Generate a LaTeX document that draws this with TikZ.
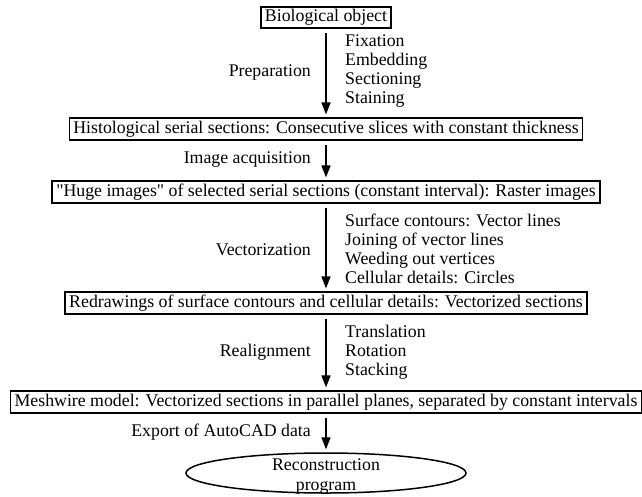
\documentclass[tikz,border=0pt]{standalone}
\usepackage{fontspec}
\setmainfont{Liberation Serif}[Ligatures=TeXOff]
\usetikzlibrary{arrows.meta,shapes.geometric}
\begin{document}
\begin{tikzpicture}[x=1pt,y=-1pt,
  every node/.style={font=\fontsize{17.8}{19}\selectfont, inner sep=0pt},
  stagebox/.style={draw, line width=1.6pt, inner xsep=4pt, inner ysep=2.5pt,
    text height=12.5pt, text depth=4pt},
  flowarrow/.style={line width=1.5pt, -{Triangle[length=12pt,width=9pt]},
    shorten <=4pt, shorten >=3pt},
  sidelabel/.style={anchor=east},
  steplist/.style={anchor=west, align=left}]
\useasboundingbox (0,0) rectangle (642,496);

\node[stagebox] (b1) at (326,17.5) {Biological object};
\node[stagebox] (b2) at (326,129) {Histological serial sections: Consecutive slices with constant thickness};
\node[stagebox] (b3) at (326,192) {"Huge images" of selected serial sections (constant interval): Raster images};
\node[stagebox] (b4) at (326,303) {Redrawings of surface contours and cellular details: Vectorized sections};
\node[stagebox] (b5) at (326,402) {Meshwire model: Vectorized sections in parallel planes, separated by constant intervals};
\node[draw, ellipse, line width=1.5pt, minimum width=280pt, minimum height=40pt] (e) at (326,473) {};
\node[align=center, font=\fontsize{17.8}{20}\selectfont] (et) at (326,477) {Reconstruction\\program};

\draw[flowarrow] (b1) -- (b2);
\draw[flowarrow] (b2) -- (b3);
\draw[flowarrow] (b3) -- (b4);
\draw[flowarrow] (b4) -- (b5);
\draw[flowarrow] (b5) -- (e);

\node[sidelabel] (l1) at (311,72) {Preparation};
\node[steplist] (s1) at (345,71.5) {Fixation\\Embedding\\Sectioning\\Staining};
\node[sidelabel] (l2) at (311,160) {Image acquisition};
\node[sidelabel] (l3) at (311,250) {Vectorization};
\node[steplist] (s3) at (345,248.5) {Surface contours: Vector lines\\Joining of vector lines\\Weeding out vertices\\Cellular details: Circles};
\node[sidelabel] (l4) at (311,352) {Realignment};
\node[steplist] (s4) at (345,352) {Translation\\Rotation\\Stacking};
\node[sidelabel] (l5) at (311,432) {Export of AutoCAD data};
\end{tikzpicture}
\end{document}
